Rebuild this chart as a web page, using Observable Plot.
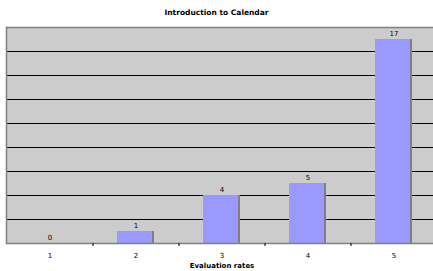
<!DOCTYPE html>
<html><head><meta charset="utf-8">
<script src="https://cdn.jsdelivr.net/npm/d3@7"></script>
<script src="https://cdn.jsdelivr.net/npm/@observablehq/plot@0.6"></script>
<style>
body{margin:0;background:#fff;font-family:"DejaVu Sans",Verdana,sans-serif;}
#t{position:absolute;left:0;top:8px;width:433px;text-align:center;font-size:7.5px;font-weight:bold;color:#000;}
#c{position:absolute;left:0;top:0;}
</style></head><body>
<div id="c"></div>
<div id="t">Introduction to Calendar</div>
<script>
const categories = ["1","2","3","4","5"];
const counts = [0, 1, 4, 5, 17];
const gridValues = [2,4,6,8,10,12,14,16];
const xTitle = "Evaluation rates";

const data = categories.map((c,i)=>({cat:c, n:counts[i]}));

const plot = Plot.plot({
  width: 433, height: 271,
  marginTop: 27, marginBottom: 28, marginLeft: 6, marginRight: 0,
  style: {fontFamily: "DejaVu Sans, Verdana, sans-serif", fontSize: "7px", background: "#fff", overflow: "visible"},
  x: {domain: categories, range: [6, 436], paddingInner: 0.57, paddingOuter: 0.285, axis: null},
  y: {type: "linear", domain: [0, 18], range: [243, 27], axis: null},
  marks: [
    Plot.frame({fill: "#cccccc", stroke: null}),
    Plot.ruleY(gridValues, {stroke: "#000", strokeWidth: 1}),
    Plot.ruleY([18], {stroke: "#808080", strokeWidth: 1.5}),
    Plot.frame({anchor: "left", stroke: "#808080", strokeWidth: 1.5}),
    Plot.barY(data, {x: "cat", y: "n", fill: "#808080"}),
    Plot.barY(data, {x: "cat", y: "n", fill: "#9999ff", insetRight: 2}),
    Plot.ruleY([0], {stroke: "#808080", strokeWidth: 1.5}),
    Plot.ruleX(categories.slice(1), {x: d=>d, y1: 0, y2: -0.25, dx: -43, stroke: "#000", strokeWidth: 1}),
    Plot.text(data, {x: "cat", y: "n", text: d=>String(d.n), dy: -6, fill: "#000", fontSize: 7}),
    Plot.text(categories, {x: d=>d, y: 0, text: d=>d, dy: 12, fill: "#000", fontSize: 7}),
    Plot.text([xTitle], {x: ()=>"3", y: 0, text: d=>d, dy: 22, fill: "#000", fontSize: 7, fontWeight: "bold"})
  ]
});
document.getElementById("c").appendChild(plot);
</script>
</body></html>
